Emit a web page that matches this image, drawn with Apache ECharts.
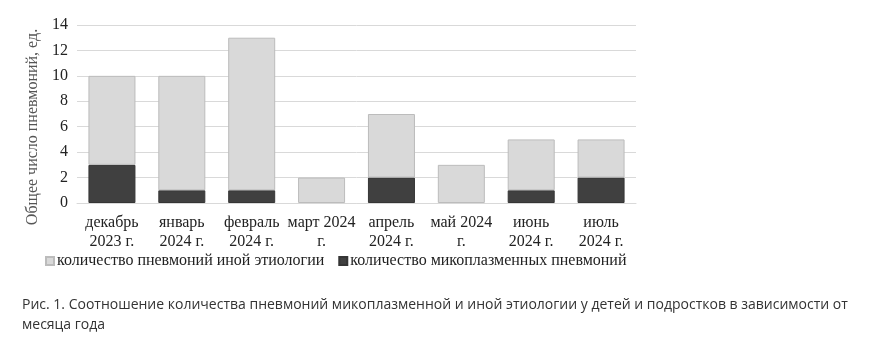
<!DOCTYPE html>
<html><head><meta charset="utf-8">
<script src="https://cdn.jsdelivr.net/npm/echarts@6/dist/echarts.min.js"></script>
<style>html,body{margin:0;padding:0;background:#fff}#c{width:880px;height:338px}</style>
</head><body><div id="c"></div>
<script>
const categories = ['декабрь\n2023 г.', 'январь\n2024 г.', 'февраль\n2024 г.', 'март 2024\nг.', 'апрель\n2024 г.', 'май 2024\nг.', 'июнь\n2024 г.', 'июль\n2024 г.'];
const otherEtiology = [7, 9, 12, 2, 5, 3, 4, 3];
const mycoplasma = [3, 1, 1, 0, 2, 0, 1, 2];
const yTicks = [0, 2, 4, 6, 8, 10, 12, 14];
const seriesNames = ['количество пневмоний иной этиологии', 'количество микоплазменных пневмоний'];
const yAxisName = 'Общее число пневмоний, ед.';
const caption = 'Рис. 1. Соотношение количества пневмоний микоплазменной и иной этиологии у детей и подростков в зависимости от\nмесяца года';

const serif = '"Liberation Serif", "DejaVu Serif", serif';
const noZero = arr => arr.map(v => (v === 0 ? null : v));
const chart = echarts.init(document.getElementById('c'));
chart.setOption({
  animation: false,
  title: {
    text: caption, left: 22, top: 295, padding: 0,
    textStyle: { fontFamily: '"Open Sans", sans-serif', fontSize: 14, fontWeight: 'normal', color: '#333', lineHeight: 20 }
  },
  legend: {
    left: 40, top: 248, itemWidth: 8, itemHeight: 8, itemGap: 14,
    icon: 'rect',
    textStyle: { fontFamily: serif, fontSize: 16, color: '#222', padding: [0, 0, 0, -2] },
    data: seriesNames
  },
  grid: { left: 77, right: 244, top: 25, bottom: 135 },
  xAxis: {
    type: 'category', data: categories,
    axisLine: { lineStyle: { color: '#d9d9d9' } },
    axisTick: { show: false },
    axisLabel: { fontFamily: serif, fontSize: 16, color: '#222', lineHeight: 19, margin: 10, interval: 0 }
  },
  yAxis: {
    type: 'value', min: yTicks[0], max: yTicks[yTicks.length - 1], interval: 2,
    name: yAxisName, nameLocation: 'middle', nameGap: 34, nameRotate: 90,
    nameTextStyle: { fontFamily: serif, fontSize: 16, color: '#555', padding: [0, 26, 0, 0] },
    axisLine: { show: false }, axisTick: { show: false },
    axisLabel: { fontFamily: serif, fontSize: 16, color: '#222', margin: 9 },
    splitLine: { lineStyle: { color: '#d9d9d9' } }
  },
  series: [
    {
      name: seriesNames[1], type: 'bar', stack: 'a', data: noZero(mycoplasma), barWidth: 47,
      itemStyle: { color: '#404040', borderColor: '#353535', borderWidth: 1 }
    },
    {
      name: seriesNames[0], type: 'bar', stack: 'a', data: noZero(otherEtiology), barWidth: 47,
      itemStyle: { color: '#d9d9d9', borderColor: '#bcbcbc', borderWidth: 1 }
    }
  ]
});
</script></body></html>
